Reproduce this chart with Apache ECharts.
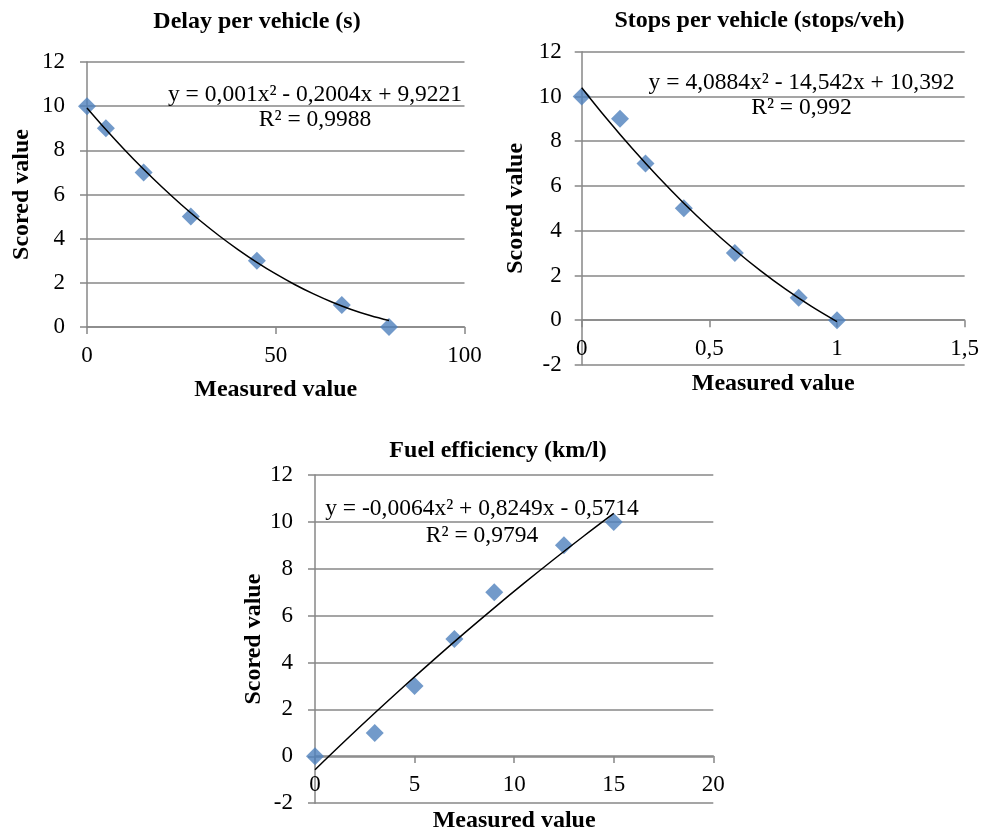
<!DOCTYPE html>
<html><head><meta charset="utf-8">
<script src="https://cdn.jsdelivr.net/npm/echarts@6/dist/echarts.min.js"></script>
<style>html,body{margin:0;padding:0;background:#fff}#c{width:982px;height:834px}</style>
</head><body><div id="c"></div>
<script>
// ---- Data ----
const titles = ['Delay per vehicle (s)', 'Stops per vehicle (stops/veh)', 'Fuel efficiency (km/l)'];
const equations = ['y = 0,001x\u00B2 - 0,2004x + 9,9221', 'y = 4,0884x\u00B2 - 14,542x + 10,392', 'y = -0,0064x\u00B2 + 0,8249x - 0,5714'];
const rSquared = ['R\u00B2 = 0,9988', 'R\u00B2 = 0,992', 'R\u00B2 = 0,9794'];
const xAxisTitle = 'Measured value';
const yAxisTitle = 'Scored value';

const delayX = [0, 5, 15, 27.5, 45, 67.5, 80];
const delayY = [10, 9, 7, 5, 3, 1, 0];
const delayTrendX = [0, 5, 10, 15, 20, 25, 30, 35, 40, 45, 50, 55, 60, 65, 70, 75, 80];
const delayTrendY = [9.922, 8.945, 8.018, 7.141, 6.314, 5.537, 4.810, 4.133, 3.506, 2.929, 2.402, 1.925, 1.498, 1.121, 0.794, 0.517, 0.290];

const stopsX = [0, 0.15, 0.25, 0.4, 0.6, 0.85, 1];
const stopsY = [10, 9, 7, 5, 3, 1, 0];
const stopsTrendX = [0, 0.1, 0.2, 0.3, 0.4, 0.5, 0.6, 0.7, 0.8, 0.9, 1];
const stopsTrendY = [10.392, 8.979, 7.647, 6.397, 5.229, 4.143, 3.139, 2.216, 1.375, 0.616, -0.062];

const fuelX = [0, 3, 5, 7, 9, 12.5, 15];
const fuelY = [0, 1, 3, 5, 7, 9, 10];
const fuelTrendX = [0, 1.5, 3, 4.5, 6, 7.5, 9, 10.5, 12, 13.5, 15];
const fuelTrendY = [-0.571, 0.652, 1.846, 3.011, 4.148, 5.255, 6.334, 7.385, 8.406, 9.398, 10.362];

const xRanges = [[0, 100, 50], [0, 1.5, 0.5], [0, 20, 5]];
const yRanges = [[0, 12, 2], [-2, 12, 2], [-2, 12, 2]];

// ---- Build ----
const FONT = 'Liberation Serif';
const GRAY = '#878787';
const BLUE = '#4F81BD';
const zip = (a, b) => a.map((v, i) => [v, b[i]]);

const grids = [
  {left: 87, top: 62, width: 377.5, height: 265},
  {left: 581.7, top: 51.7, width: 383.3, height: 313.3},
  {left: 315, top: 475, width: 398.3, height: 330.5}
];
const xNameGap = [50.5, 51.5, 53];
const yNameGap = [53.5, 53.5, 42.5];
const yLabelMargin = [22, 20, 22];

const fmt = v => String(v).replace('.', ',');

const xAxes = xRanges.map((r, i) => {
  const yr = yRanges[i];
  // move the horizontal axis up so it crosses the vertical axis at y = 0
  const off = -grids[i].height * (0 - yr[0]) / (yr[1] - yr[0]);
  return {
    type: 'value', gridIndex: i, min: r[0], max: r[1], interval: r[2], position: 'bottom', offset: off,
    axisLine: {onZero: false, lineStyle: {color: GRAY, width: 1.5}},
    axisTick: {show: true, length: 7, lineStyle: {color: GRAY, width: 1.5}},
    splitLine: {show: false},
    axisLabel: {fontFamily: FONT, fontSize: 23, color: '#000', margin: 17, formatter: fmt, showMinLabel: true, showMaxLabel: true},
    name: xAxisTitle, nameLocation: 'middle', nameGap: xNameGap[i],
    nameTextStyle: {fontFamily: FONT, fontSize: 24, fontWeight: 'bold', color: '#000'}
  };
});
const yAxes = yRanges.map((r, i) => ({
  type: 'value', gridIndex: i, min: r[0], max: r[1], interval: r[2],
  axisLine: {show: true, onZero: false, lineStyle: {color: GRAY, width: 1.5}},
  axisTick: {show: true, length: 7, lineStyle: {color: GRAY, width: 1.5}},
  splitLine: {show: true, lineStyle: {color: GRAY, width: 1.5}},
  axisLabel: {fontFamily: FONT, fontSize: 23, color: '#000', margin: yLabelMargin[i], formatter: fmt},
  name: yAxisTitle, nameLocation: 'middle', nameGap: yNameGap[i], nameRotate: 90,
  nameTextStyle: {fontFamily: FONT, fontSize: 24, fontWeight: 'bold', color: '#000'}
}));

const pts = [[delayX, delayY, delayTrendX, delayTrendY], [stopsX, stopsY, stopsTrendX, stopsTrendY], [fuelX, fuelY, fuelTrendX, fuelTrendY]];
const series = [];
pts.forEach((p, i) => {
  series.push({type: 'scatter', xAxisIndex: i, yAxisIndex: i, data: zip(p[0], p[1]), symbol: 'diamond', symbolSize: 18,
    itemStyle: {color: BLUE}, z: 2, silent: true});
  series.push({type: 'line', xAxisIndex: i, yAxisIndex: i, data: zip(p[2], p[3]), smooth: 0.4, showSymbol: false,
    lineStyle: {color: '#000', width: 1.5}, z: 3, silent: true});
});

const titlePos = [[257, 22], [759.5, 21], [498, 451]];
const eqPos = [[315, 95, 120], [801.5, 82.7, 108], [482, 509, 536]];
const graphic = [];
titles.forEach((t, i) => graphic.push({type: 'text', x: titlePos[i][0], y: titlePos[i][1],
  style: {text: t, font: 'bold 24px "' + FONT + '"', fill: '#000', textAlign: 'center', textVerticalAlign: 'middle'}}));
equations.forEach((t, i) => {
  graphic.push({type: 'text', x: eqPos[i][0], y: eqPos[i][1],
    style: {text: t, font: '23.5px "' + FONT + '"', fill: '#000', textAlign: 'center', textVerticalAlign: 'middle'}, z: 10});
  graphic.push({type: 'text', x: eqPos[i][0], y: eqPos[i][2],
    style: {text: rSquared[i], font: '23.5px "' + FONT + '"', fill: '#000', textAlign: 'center', textVerticalAlign: 'middle'}, z: 10});
});

const chart = echarts.init(document.getElementById('c'), null, {renderer: 'canvas'});
chart.setOption({
  animation: false,
  backgroundColor: '#fff',
  grid: grids,
  xAxis: xAxes,
  yAxis: yAxes,
  series: series,
  graphic: graphic
});
</script></body></html>
